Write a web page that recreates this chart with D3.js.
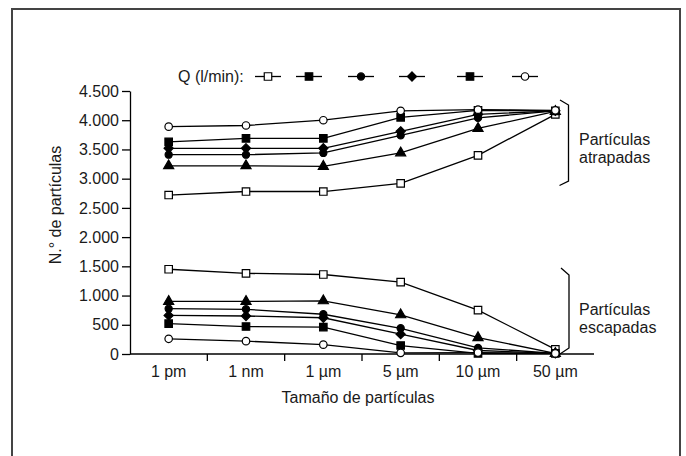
<!DOCTYPE html>
<html>
<head>
<meta charset="utf-8">
<script src="https://cdn.jsdelivr.net/npm/d3@7"></script>
<style>
  body { margin: 0; background: #fff; }
  svg text { font-family: "Liberation Sans", Arial, sans-serif; font-size: 16px; fill: #1a1a1a; }
</style>
</head>
<body>
<div id="chart"></div>
<script>
// particle size categories
var sizes = ['1 pm', '1 nm', '1 \u00b5m', '5 \u00b5m', '10 \u00b5m', '50 \u00b5m'];

// trapped particles, one list per flow series
var trappedOpenSquare = [2720, 2780, 2780, 2920, 3400, 4100];
var trappedTriangle = [3220, 3220, 3210, 3440, 3860, 4150];
var trappedCircle = [3410, 3410, 3440, 3740, 4040, 4160];
var trappedDiamond = [3520, 3520, 3520, 3810, 4100, 4160];
var trappedFilledSquare = [3630, 3690, 3690, 4050, 4170, 4160];
var trappedOpenCircle = [3890, 3910, 4000, 4160, 4180, 4170];

// escaped particles
var escapedOpenSquare = [1450, 1380, 1360, 1230, 750, 80];
var escapedTriangle = [900, 900, 910, 670, 280, 10];
var escapedCircle = [775, 765, 680, 440, 105, 10];
var escapedDiamond = [660, 650, 620, 340, 60, 10];
var escapedFilledSquare = [520, 470, 460, 145, 10, 10];
var escapedOpenCircle = [260, 220, 160, 20, 25, 10];

var yTicks = [0, 500, 1000, 1500, 2000, 2500, 3000, 3500, 4000, 4500];
var legendSymbols = ['openSquare', 'filledSquare', 'circle', 'diamond', 'filledSquare', 'openCircle'];

var width = 686,
  height = 456;

var series = [
  { sym: 'openSquare', trapped: trappedOpenSquare, escaped: escapedOpenSquare },
  { sym: 'triangle', trapped: trappedTriangle, escaped: escapedTriangle },
  { sym: 'circle', trapped: trappedCircle, escaped: escapedCircle },
  { sym: 'diamond', trapped: trappedDiamond, escaped: escapedDiamond },
  { sym: 'filledSquare', trapped: trappedFilledSquare, escaped: escapedFilledSquare },
  { sym: 'openCircle', trapped: trappedOpenCircle, escaped: escapedOpenCircle }
];

var diamond = {
  draw: function (ctx, size) {
    var r = Math.sqrt(size / 2);
    ctx.moveTo(0, -r);
    ctx.lineTo(r, 0);
    ctx.lineTo(0, r);
    ctx.lineTo(-r, 0);
    ctx.closePath();
  }
};

var symbolDefs = {
  openSquare: { type: d3.symbolSquare, size: 56, fill: '#fff' },
  filledSquare: { type: d3.symbolSquare, size: 56, fill: '#000' },
  triangle: { type: d3.symbolTriangle, size: 44, fill: '#000' },
  circle: { type: d3.symbolCircle, size: 40, fill: '#000' },
  diamond: { type: diamond, size: 42, fill: '#000' },
  openCircle: { type: d3.symbolCircle, size: 44, fill: '#fff' }
};

function symbolPath(name) {
  var s = symbolDefs[name];
  return d3.symbol().type(s.type).size(s.size)();
}

var svg = d3.select('#chart')
  .append('svg')
  .attr('width', width)
  .attr('height', height);

// frame
svg.append('rect')
  .attr('x', 12)
  .attr('y', 9)
  .attr('width', 668)
  .attr('height', 470)
  .attr('fill', 'none')
  .attr('stroke', '#444')
  .attr('stroke-width', 2);

var x = d3.scaleBand()
  .domain(sizes)
  .range([130, 594]);

var y = d3.scaleLinear()
  .domain([0, 4500])
  .range([354, 91]);

var fmt = function (d) { return d3.format(',')(d).replace(/,/g, '.'); };

// y axis
var yAxis = svg.append('g')
  .attr('transform', 'translate(130,0)')
  .call(d3.axisLeft(y).tickValues(yTicks).tickFormat(fmt).tickSize(8).tickSizeOuter(0).tickPadding(3));
yAxis.select('.domain').attr('stroke', '#000').attr('stroke-width', 1.3);
yAxis.selectAll('.tick line').attr('stroke', '#000').attr('stroke-width', 1.3);
yAxis.selectAll('.tick text').style('font-size', '16px').attr('fill', '#1a1a1a');

// x axis: line, boundary ticks, centred labels
svg.append('line')
  .attr('x1', x.range()[0]).attr('x2', x.range()[1])
  .attr('y1', y(0)).attr('y2', y(0))
  .attr('stroke', '#000').attr('stroke-width', 1.3);

svg.selectAll('.xtick')
  .data(sizes.slice(0, -1))
  .enter()
  .append('line')
  .attr('class', 'xtick')
  .attr('x1', function (d) { return x(d) + x.bandwidth(); })
  .attr('x2', function (d) { return x(d) + x.bandwidth(); })
  .attr('y1', y(0))
  .attr('y2', y(0) + 7)
  .attr('stroke', '#000').attr('stroke-width', 1.3);

svg.selectAll('.xlabel')
  .data(sizes)
  .enter()
  .append('text')
  .attr('class', 'xlabel')
  .attr('x', function (d) { return x(d) + x.bandwidth() / 2; })
  .attr('y', y(0) + 23)
  .attr('text-anchor', 'middle')
  .text(function (d) { return d; });

svg.append('text')
  .attr('x', 358)
  .attr('y', 403)
  .attr('text-anchor', 'middle')
  .text('Tamaño de partículas');

svg.append('text')
  .attr('transform', 'translate(61,205) rotate(-90)')
  .attr('text-anchor', 'middle')
  .text('N.° de partículas');

// lines + markers
var line = d3.line()
  .x(function (d, i) { return x(sizes[i]) + x.bandwidth() / 2; })
  .y(function (d) { return y(d); });

['trapped', 'escaped'].forEach(function (key) {
  series.forEach(function (s) {
    svg.append('path')
      .datum(s[key])
      .attr('d', line)
      .attr('fill', 'none')
      .attr('stroke', '#000')
      .attr('stroke-width', 1.3);
  });
  series.forEach(function (s) {
    svg.selectAll(null)
      .data(s[key])
      .enter()
      .append('path')
      .attr('d', symbolPath(s.sym))
      .attr('transform', function (d, i) {
        return 'translate(' + (x(sizes[i]) + x.bandwidth() / 2) + ',' + y(d) + ')';
      })
      .attr('fill', symbolDefs[s.sym].fill)
      .attr('stroke', '#000')
      .attr('stroke-width', 1.2);
  });
});

// brackets
var bracket = d3.line();
svg.append('path')
  .attr('d', bracket([[560, 100], [568.5, 105], [568.5, 181], [559.5, 185.5]]))
  .attr('fill', 'none').attr('stroke', '#000').attr('stroke-width', 1.3);
svg.append('path')
  .attr('d', bracket([[561, 268], [569, 275], [569, 348], [560, 354]]))
  .attr('fill', 'none').attr('stroke', '#000').attr('stroke-width', 1.3);

svg.append('text').attr('x', 579).attr('y', 145).text('Partículas');
svg.append('text').attr('x', 579).attr('y', 163).text('atrapadas');
svg.append('text').attr('x', 579).attr('y', 315).text('Partículas');
svg.append('text').attr('x', 579).attr('y', 333).text('escapadas');

// legend
var legendX = [268, 309, 361, 412, 470, 525];
var legendY = 76.5;

svg.append('text')
  .attr('x', 178)
  .attr('y', 82)
  .text('Q (l/min):');

var leg = svg.selectAll('.leg')
  .data(legendSymbols)
  .enter()
  .append('g')
  .attr('class', 'leg')
  .attr('transform', function (d, i) { return 'translate(' + legendX[i] + ',' + legendY + ')'; });

leg.append('line')
  .attr('x1', -13).attr('x2', 13)
  .attr('stroke', '#000').attr('stroke-width', 1.3);

leg.append('path')
  .attr('d', function (d) { return symbolPath(d); })
  .attr('fill', function (d) { return symbolDefs[d].fill; })
  .attr('stroke', '#000')
  .attr('stroke-width', 1.2);
</script>
</body>
</html>
